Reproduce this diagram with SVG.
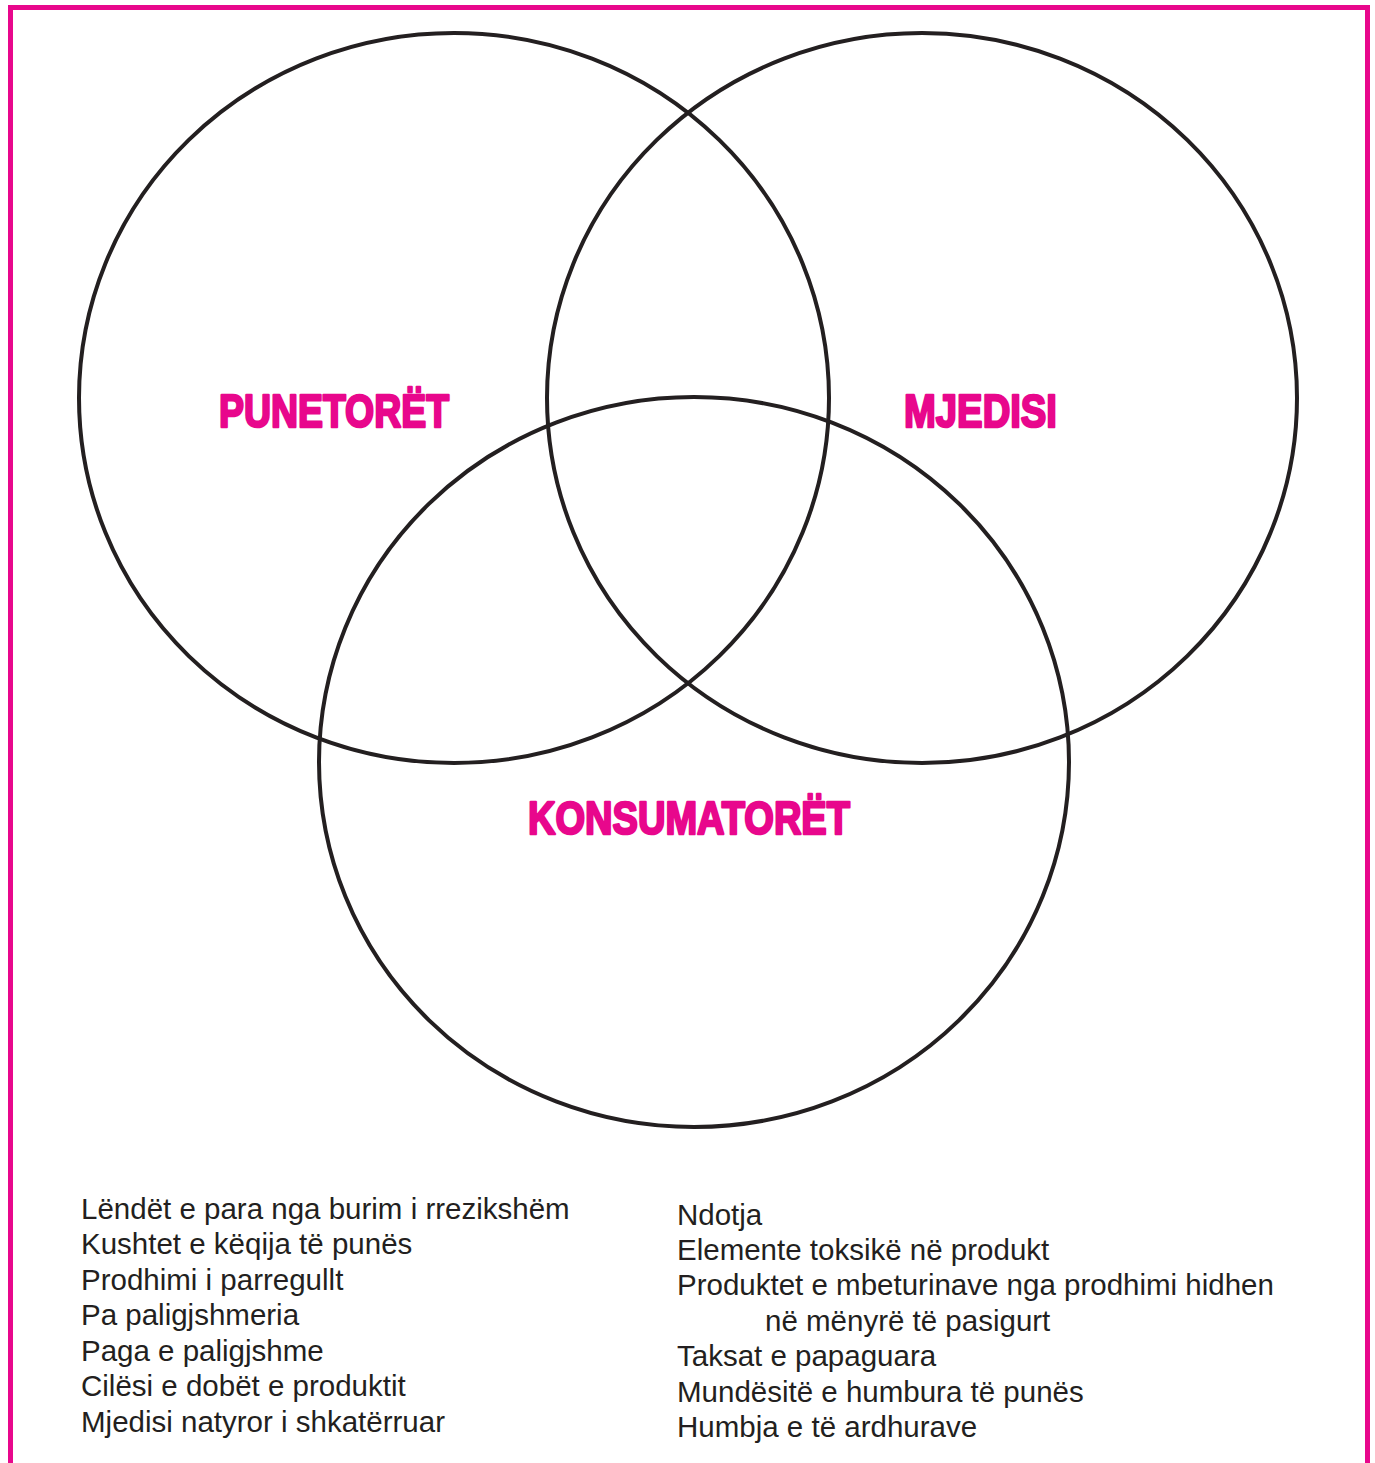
<svg xmlns="http://www.w3.org/2000/svg" width="1375" height="1463" viewBox="0 0 1375 1463">
<style>
.frame{fill:none;stroke:#e8078c;stroke-width:5}
.ring{fill:none;stroke:#231f20;stroke-width:4}
.title{font-family:"Liberation Sans",Arial,sans-serif;font-weight:bold;font-size:47px;fill:#e8078c;stroke:#e8078c;stroke-width:2.5;stroke-linejoin:round}
.item{font-family:"Liberation Sans",Arial,sans-serif;font-size:29.5px;fill:#231f20}
</style>
<rect width="1375" height="1463" fill="#fff"/>
<path class="frame" d="M10.5 1463 V7.5 H1367.5 V1463"/>
<g id="connectors"></g>
<g id="punetoret">
<ellipse class="ring" cx="454" cy="398" rx="375" ry="365"/>
<text class="title" x="219" y="427" textLength="230" lengthAdjust="spacingAndGlyphs">PUNETORËT</text>
</g>
<g id="mjedisi">
<ellipse class="ring" cx="922" cy="398" rx="375" ry="365"/>
<text class="title" x="904" y="427" textLength="153" lengthAdjust="spacingAndGlyphs">MJEDISI</text>
</g>
<g id="konsumatoret">
<ellipse class="ring" cx="694" cy="762" rx="375" ry="365"/>
<text class="title" x="528" y="834" textLength="322" lengthAdjust="spacingAndGlyphs">KONSUMATORËT</text>
</g>
<g id="list-left">
<text class="item" x="81" y="1219">Lëndët e para nga burim i rrezikshëm</text>
<text class="item" x="81" y="1254">Kushtet e këqija të punës</text>
<text class="item" x="81" y="1290">Prodhimi i parregullt</text>
<text class="item" x="81" y="1325">Pa paligjshmeria</text>
<text class="item" x="81" y="1361">Paga e paligjshme</text>
<text class="item" x="81" y="1396">Cilësi e dobët e produktit</text>
<text class="item" x="81" y="1432">Mjedisi natyror i shkatërruar</text>
</g>
<g id="list-right">
<text class="item" x="677" y="1225">Ndotja</text>
<text class="item" x="677" y="1260">Elemente toksikë në produkt</text>
<text class="item" x="677" y="1295">Produktet e mbeturinave nga prodhimi hidhen</text>
<text class="item" x="765" y="1331">në mënyrë të pasigurt</text>
<text class="item" x="677" y="1366">Taksat e papaguara</text>
<text class="item" x="677" y="1402">Mundësitë e humbura të punës</text>
<text class="item" x="677" y="1437">Humbja e të ardhurave</text>
</g>
</svg>
